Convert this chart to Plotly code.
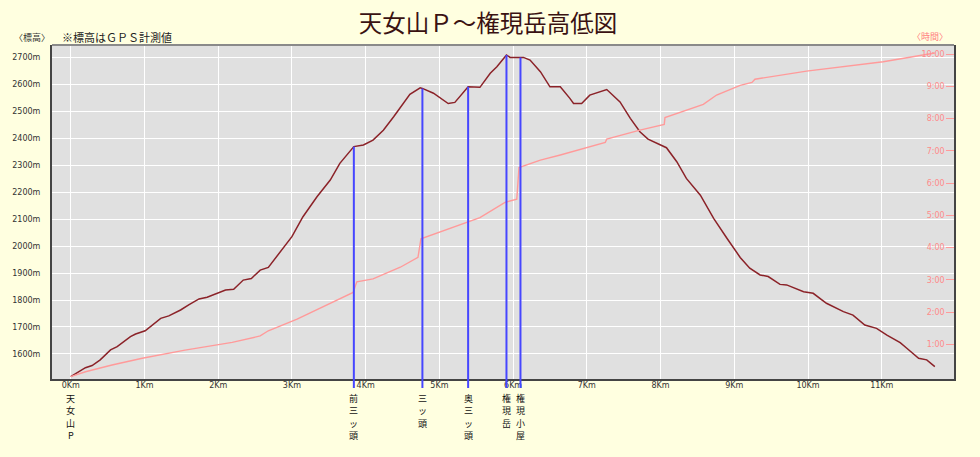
import plotly.graph_objects as go

# ---- data ----
elev_km = [0.00, 0.20, 0.29, 0.40, 0.54, 0.63, 0.81, 0.88, 1.01, 1.10, 1.22, 1.33, 1.49, 1.60,
           1.74, 1.85, 1.96, 2.10, 2.21, 2.34, 2.45, 2.57, 2.68, 2.84, 3.00, 3.15, 3.34, 3.52,
           3.65, 3.84, 3.97, 4.10, 4.24, 4.38, 4.47, 4.60, 4.74, 4.77, 4.92, 5.12, 5.21, 5.39,
           5.55, 5.69, 5.78, 5.91, 5.96, 6.14, 6.23, 6.37, 6.50, 6.64, 6.77, 6.82, 6.93, 7.04,
           7.27, 7.45, 7.59, 7.72, 7.83, 8.08, 8.22, 8.35, 8.54, 8.72, 8.90, 9.08, 9.21, 9.35,
           9.46, 9.62, 9.71, 9.94, 10.07, 10.25, 10.48, 10.61, 10.77, 10.93, 11.07, 11.25, 11.34,
           11.50, 11.61, 11.72]
elev_m = [1516, 1549, 1557, 1578, 1615, 1627, 1664, 1674, 1686, 1707, 1732, 1741, 1763, 1782,
          1804, 1810, 1822, 1837, 1840, 1874, 1880, 1911, 1921, 1979, 2035, 2109, 2183, 2245,
          2307, 2369, 2375, 2393, 2430, 2480, 2515, 2563, 2587, 2585, 2567, 2529, 2533, 2591,
          2589, 2641, 2665, 2709, 2700, 2700, 2690, 2647, 2591, 2591, 2548, 2529, 2529, 2560,
          2581, 2535, 2474, 2424, 2397, 2365, 2313, 2251, 2189, 2103, 2029, 1958, 1918, 1893,
          1887, 1858, 1856, 1831, 1825, 1788, 1757, 1744, 1707, 1695, 1670, 1642, 1621,
          1584, 1578, 1553]

time_km = [0.00, 0.20, 0.56, 0.97, 1.55, 2.19, 2.57, 2.68, 3.07, 3.38, 3.83, 3.88, 4.10, 4.47,
           4.71, 4.75, 4.96, 5.19, 5.55, 5.89, 6.05, 6.08, 6.37, 6.64, 6.95, 7.25, 7.27, 7.72,
           8.05, 8.06, 8.58, 8.76, 9.08, 9.24, 9.28, 9.98, 11.02, 11.48, 11.72]
time_h = [0.00, 0.15, 0.36, 0.57, 0.82, 1.06, 1.26, 1.42, 1.78, 2.12, 2.61, 2.94, 3.03, 3.39,
          3.70, 4.27, 4.44, 4.65, 4.93, 5.40, 5.50, 6.48, 6.71, 6.87, 7.06, 7.26, 7.36, 7.64,
          7.82, 8.03, 8.44, 8.73, 9.03, 9.12, 9.22, 9.47, 9.76, 9.95, 10.03]

waypoint_names = ["前三ッ頭", "三ッ頭", "奥三ッ頭", "権現岳", "権現小屋"]
waypoint_km = [3.84, 4.77, 5.39, 5.91, 6.10]
waypoint_elev = [2369, 2585, 2591, 2709, 2700]
start_name = "天女山P"
start_km = 0.0

x_ticks = list(range(0, 12))
x_labels = [f"{k}Km" for k in x_ticks]
y_ticks = list(range(1600, 2800, 100))
y_labels = [f"{v}m" for v in y_ticks]
t_ticks = list(range(1, 11))
t_labels = [f"{h}:00" for h in t_ticks]

YMIN, YMAX = 1507, 2746
TMIN, TMAX = -0.075, 10.28
PLOT_H = 334  # px height of plotting area

fig = go.Figure()
fig.add_trace(go.Scatter(x=time_km, y=time_h, mode="lines", yaxis="y2",
                         line=dict(color="#FF9A9A", width=1.4), hoverinfo="skip"))
fig.add_trace(go.Scatter(x=elev_km, y=elev_m, mode="lines",
                         line=dict(color="#8B2228", width=1.5), hoverinfo="skip"))

shapes = []
for k, e in zip(waypoint_km, waypoint_elev):
    shapes.append(dict(type="line", xref="x", yref="y", x0=k, x1=k, y0=YMIN, y1=e,
                       line=dict(color="#4646FF", width=2), layer="above"))
    shapes.append(dict(type="line", xref="x", yref="paper", x0=k, x1=k, y0=-0.027, y1=0,
                       line=dict(color="#4646FF", width=2), layer="above"))
# top border (lighter)
shapes.append(dict(type="line", xref="paper", yref="paper", x0=0, x1=1, y0=1, y1=1,
                   line=dict(color="#8a8a8a", width=2)))

annotations = []
for name, k in zip([start_name] + waypoint_names, [start_km] + waypoint_km):
    for i, ch in enumerate(name):
        annotations.append(dict(x=k, y=-(19 + 12.5 * i) / PLOT_H, xref="x", yref="paper",
                                xanchor="center", yanchor="middle", borderpad=0,
                                text=ch, showarrow=False,
                                font=dict(family="Noto Sans CJK JP", size=9, color="#111")))
annotations.append(dict(x=-0.0443, y=1.021, xref="paper", yref="paper", xanchor="left", yanchor="middle",
                        text="〈標高〉", showarrow=False,
                        font=dict(family="Noto Sans CJK JP", size=9, color="#333")))
annotations.append(dict(x=0.0089, y=1.024, xref="paper", yref="paper", xanchor="left", yanchor="middle",
                        text="※標高はＧＰＳ計測値", showarrow=False,
                        font=dict(family="Noto Sans CJK JP", size=11, color="#222")))
annotations.append(dict(x=0.9956, y=1.024, xref="paper", yref="paper", xanchor="right", yanchor="middle",
                        text="〈時間〉", showarrow=False,
                        font=dict(family="Noto Sans CJK JP", size=9, color="#FF8080")))

fig.update_layout(
    width=980, height=457,
    margin=dict(l=52, r=26, t=45, b=78),
    paper_bgcolor="#FFFFE0",
    plot_bgcolor="#E0E0E0",
    showlegend=False,
    title=dict(text="天女山Ｐ～権現岳高低図", x=0.498, xanchor="center", y=1 - 24 / 457,
               yanchor="middle", yref="container",
               font=dict(family="Noto Sans CJK JP", size=23.5, color="#3A1212")),
    xaxis=dict(range=[-0.254, 11.98], tickvals=x_ticks, ticktext=x_labels,
               showgrid=True, gridcolor="#FFFFFF", gridwidth=1, zeroline=False,
               showline=True, linecolor="#444", linewidth=2, ticks="", ticklabelstandoff=-3,
               tickfont=dict(family="DejaVu Sans", size=8, color="#333")),
    yaxis=dict(range=[YMIN, YMAX], tickvals=y_ticks, ticktext=y_labels,
               showgrid=True, gridcolor="#FFFFFF", gridwidth=1, zeroline=False,
               showline=True, linecolor="#444", linewidth=2,
               ticks="outside", ticklen=8, tickcolor="rgba(0,0,0,0)",
               tickfont=dict(family="DejaVu Sans", size=8, color="#333")),
    yaxis2=dict(range=[TMIN, TMAX], overlaying="y", side="right", tickvals=t_ticks, ticktext=t_labels,
                showgrid=False, zeroline=False, showline=True, linecolor="#444", linewidth=2,
                ticks="inside", ticklen=8, tickcolor="#FF9A9A", ticklabelposition="inside",
                tickfont=dict(family="DejaVu Sans", size=8, color="#FF8A8A")),
    shapes=shapes,
    annotations=annotations,
)

fig.write_html("out.html", config={"displayModeBar": False},
               post_script="document.body.style.margin='0';document.body.style.background='#FFFFE0';")
